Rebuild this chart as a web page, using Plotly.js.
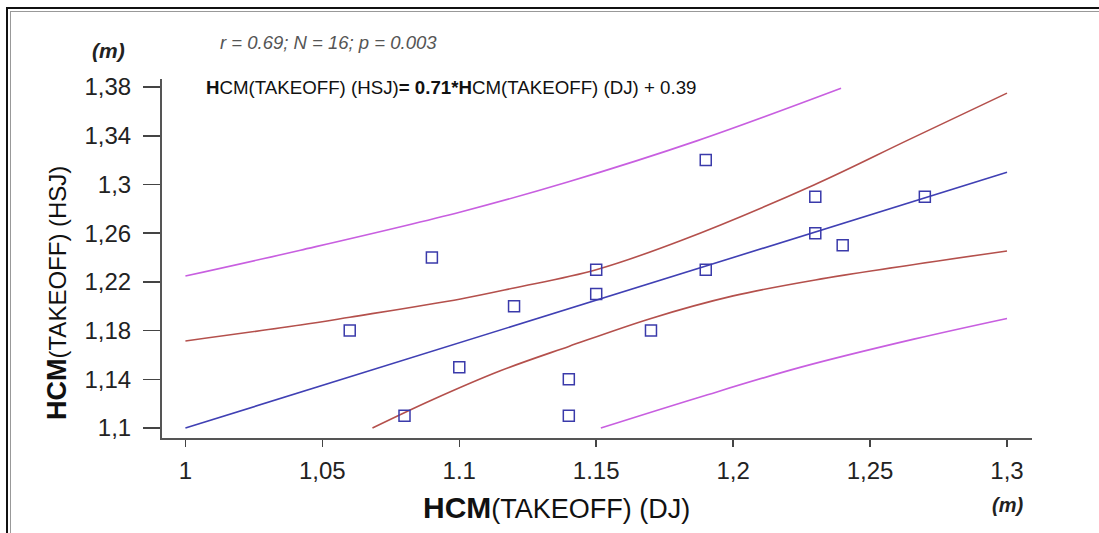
<!DOCTYPE html>
<html>
<head>
<meta charset="utf-8">
<script src="https://cdn.plot.ly/plotly-3.0.1.min.js"></script>
<style>
  html, body { margin: 0; padding: 0; background: #fff; }
  #wrap { position: relative; width: 1099px; height: 533px; overflow: hidden; }
  #chart { position: absolute; left: 0; top: 0; width: 1099px; height: 533px; }
  .b { position: absolute; pointer-events: none; }
</style>
</head>
<body>
<div id="wrap">
  <div id="chart"></div>
  <div class="b" style="left:6px; top:7px; width:2px; height:540px; background:#111;"></div>
  <div class="b" style="left:10px; top:11px; width:1px; height:540px; background:#999;"></div>
  <div class="b" style="left:6px; top:7px; width:1100px; height:2px; background:#111;"></div>
  <div class="b" style="left:10px; top:11px; width:1100px; height:1px; background:#999;"></div>
</div>
<script>
// Observed data points
const djValues  = [1.06, 1.08, 1.09, 1.10, 1.12, 1.14, 1.14, 1.15, 1.15, 1.17, 1.19, 1.19, 1.23, 1.23, 1.24, 1.27];
const hsjValues = [1.18, 1.11, 1.24, 1.15, 1.20, 1.14, 1.11, 1.23, 1.21, 1.18, 1.32, 1.23, 1.29, 1.26, 1.25, 1.29];

// Regression line
const fitX = [1.0, 1.3];
const fitY = [1.10, 1.31];

// Confidence band (red)
const ciUpperX = [1.0, 1.042, 1.060, 1.1005, 1.120, 1.150, 1.181, 1.2295, 1.264, 1.3];
const ciUpperY = [1.1715, 1.1846, 1.191, 1.206, 1.215, 1.23, 1.254, 1.2996, 1.3366, 1.375];
const ciLowerX = [1.0683, 1.09, 1.115, 1.14, 1.17, 1.20, 1.23, 1.30];
const ciLowerY = [1.10, 1.123, 1.147, 1.167, 1.19, 1.2085, 1.2216, 1.2454];

// Prediction band (purple)
const piUpperX = [1.0, 1.042, 1.1005, 1.1396, 1.187, 1.2394];
const piUpperY = [1.2248, 1.246, 1.2774, 1.302, 1.336, 1.379];
const piLowerX = [1.1517, 1.188, 1.2248, 1.266, 1.3];
const piLowerY = [1.10, 1.1255, 1.150, 1.173, 1.19];

// Ticks
const xTickVals = [1, 1.05, 1.1, 1.15, 1.2, 1.25, 1.3];
const xTickText = ["1", "1,05", "1.1", "1.15", "1,2", "1,25", "1,3"];
const yTickVals = [1.1, 1.14, 1.18, 1.22, 1.26, 1.3, 1.34, 1.38];
const yTickText = ["1,1", "1,14", "1,18", "1,22", "1,26", "1,3", "1,34", "1,38"];

const FONT = "Liberation Sans, Arial, sans-serif";
const RED = "#b4504c";
const PURPLE = "#c85fe0";
const BLUE = "#4040b4";

const line = (x, y, color) => ({
  x: x, y: y, type: "scatter", mode: "lines",
  line: { color: color, width: 1.6, shape: "spline", smoothing: 1 },
  hoverinfo: "skip", showlegend: false
});

const traces = [
  line(piUpperX, piUpperY, PURPLE),
  line(piLowerX, piLowerY, PURPLE),
  line(ciUpperX, ciUpperY, RED),
  line(ciLowerX, ciLowerY, RED),
  { x: fitX, y: fitY, type: "scatter", mode: "lines",
    line: { color: BLUE, width: 1.6 }, showlegend: false },
  { x: djValues, y: hsjValues, type: "scatter", mode: "markers",
    marker: { symbol: "square-open", size: 11, color: "#3a3aaa", line: { width: 1.5, color: "#3a3aaa" } },
    showlegend: false }
];

const layout = {
  width: 1099, height: 533,
  margin: { l: 162, r: 67, t: 79, b: 95, pad: 0 },
  paper_bgcolor: "#ffffff", plot_bgcolor: "#ffffff",
  font: { family: FONT, color: "#222" },
  showlegend: false,
  xaxis: {
    range: [0.99145, 1.30913], showgrid: false, zeroline: false,
    showline: true, linecolor: "#555", linewidth: 2,
    ticks: "outside", ticklen: 7, tickwidth: 1.5, tickcolor: "#444",
    tickvals: xTickVals, ticktext: xTickText,
    tickfont: { family: FONT, size: 24, color: "#222" },
    ticklabelstandoff: 3
  },
  yaxis: {
    range: [1.0918, 1.3866], showgrid: false, zeroline: false,
    showline: true, linecolor: "#555", linewidth: 2,
    ticks: "outside", ticklen: 17, tickwidth: 1.5, tickcolor: "#444",
    tickvals: yTickVals, ticktext: yTickText,
    tickfont: { family: FONT, size: 24, color: "#222" },
    ticklabelstandoff: 7
  },
  annotations: [
    { xref: "paper", yref: "paper", x: (556 - 162) / 870, y: -(507 - 438) / 359,
      xanchor: "center", yanchor: "middle", showarrow: false,
      text: "<b><span style='font-size:30px'>HCM</span></b><span style='font-size:27px'>(TAKEOFF) (DJ)</span>",
      font: { family: FONT, color: "#111" } },
    { xref: "paper", yref: "paper", x: -(162 - 57) / 870, y: (438 - 293) / 359,
      xanchor: "center", yanchor: "middle", showarrow: false, textangle: -90,
      text: "<b><span style='font-size:27px'>HCM</span></b><span style='font-size:24px'>(TAKEOFF) (HSJ)</span>",
      font: { family: FONT, color: "#111" } },
    { xref: "paper", yref: "paper", x: -(162 - 108) / 870, y: (438 - 50) / 359,
      xanchor: "center", yanchor: "middle", showarrow: false,
      text: "<b><i>(m)</i></b>", font: { family: FONT, size: 21, color: "#222" } },
    { xref: "paper", yref: "paper", x: (1007 - 162) / 870, y: -(505 - 438) / 359,
      xanchor: "center", yanchor: "middle", showarrow: false,
      text: "<b><i>(m)</i></b>", font: { family: FONT, size: 20, color: "#222" } },
    { xref: "paper", yref: "paper", x: (218 - 162) / 870, y: (438 - 43) / 359,
      xanchor: "left", yanchor: "middle", showarrow: false,
      text: "<i>r = 0.69; N = 16; p = 0.003</i>", font: { family: FONT, size: 18.5, color: "#555" } },
    { xref: "paper", yref: "paper", x: (204 - 162) / 870, y: (438 - 87) / 359,
      xanchor: "left", yanchor: "middle", showarrow: false,
      text: "<b>H</b>CM(TAKEOFF) (HSJ)<b>= 0.71*H</b>CM(TAKEOFF) (DJ) + 0.39",
      font: { family: FONT, size: 18.7, color: "#111" } }
  ]
};

Plotly.newPlot("chart", traces, layout, { displayModeBar: false, staticPlot: true });
</script>
</body>
</html>
